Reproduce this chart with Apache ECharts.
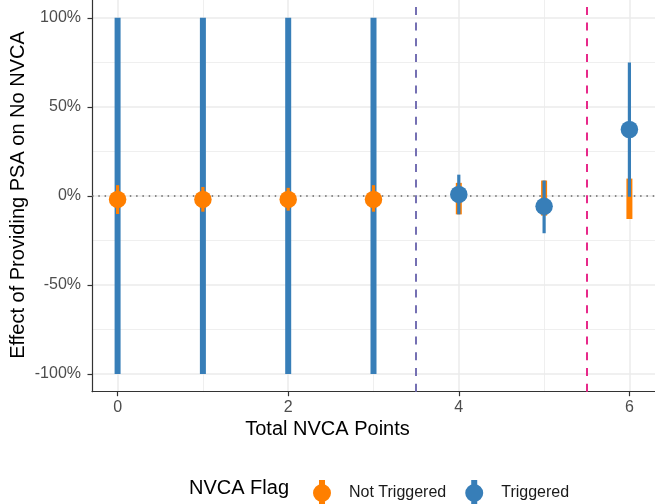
<!DOCTYPE html>
<html>
<head>
<meta charset="utf-8">
<script src="https://cdn.jsdelivr.net/npm/echarts@6/dist/echarts.min.js"></script>
<style>
html,body{margin:0;padding:0;background:#fff;}
#chart{width:655px;height:504px;}
</style>
</head>
<body>
<div id="chart"></div>
<script>
// ---- data ----
var xPoints = [0, 1, 2, 3, 4, 5, 6];
var groups = ['Not Triggered', 'Triggered'];
// Not Triggered
var notTrigEst = [-2, -2, -2, -2, null, null, null];
var notTrigLo  = [-10.2, -8.9, -8.3, -8.9, -10.4, -11.1, -13];
var notTrigHi  = [6, 5, 4.5, 6, 7.3, 8.6, 9.7];
// Triggered
var trigEst = [null, null, null, null, 0.8, -5.9, 37.3];
var trigLo  = [-100, -100, -100, -100, -10.4, -21, -0.5];
var trigHi  = [100, 100, 100, 100, 11.9, 8.6, 74.9];
// axis ticks
var yTicks = [-100, -50, 0, 50, 100];
var yMinor = [-75, -25, 25, 75];
var xTicks = [0, 2, 4, 6];
var xMinor = [1, 3, 5];
var cutoffs = [3.5, 5.5];

// ---- styling ----
var COLORS = ['#FF7F00', '#377EB8'];
var CUT_COLORS = ['#7570B3', '#E7298A'];
var FONT = '"Liberation Sans", Arial, Helvetica, sans-serif';
var GRID_COL = '#ebebeb';

var est = [notTrigEst, trigEst], lo = [notTrigLo, trigLo], hi = [notTrigHi, trigHi];

// build range data: thick ranges (no point estimate) first, then thin ones
var rangeData = [];
[1, 0].forEach(function (thickPass) {
  for (var g = 0; g < 2; g++) {
    for (var i = 0; i < xPoints.length; i++) {
      var thick = est[g][i] == null ? 1 : 0;
      if (thick === thickPass) rangeData.push([xPoints[i], lo[g][i], hi[g][i], g, thick]);
    }
  }
});

function pts(g) {
  var out = [];
  for (var i = 0; i < xPoints.length; i++) if (est[g][i] != null) out.push([xPoints[i], est[g][i]]);
  return out;
}

var gridLines = [];
yTicks.forEach(function (v) { gridLines.push({ yAxis: v, lineStyle: { color: GRID_COL, width: 1.5, type: 'solid' } }); });
yMinor.forEach(function (v) { gridLines.push({ yAxis: v, lineStyle: { color: GRID_COL, width: 0.8, type: 'solid' } }); });
xTicks.forEach(function (v) { gridLines.push({ xAxis: v, lineStyle: { color: GRID_COL, width: 1.5, type: 'solid' } }); });
xMinor.forEach(function (v) { gridLines.push({ xAxis: v, lineStyle: { color: GRID_COL, width: 0.8, type: 'solid' } }); });

var refLines = [{ yAxis: 0, lineStyle: { color: '#666', width: 1.5, type: [1.5, 4.8] } }];
cutoffs.forEach(function (v, k) {
  refLines.push({ xAxis: v, lineStyle: { color: CUT_COLORS[k], width: 2, type: [8, 7.7] } });
});

var ICON = 'path://M6 0 L12 0 L12 26 L6 26 Z M0 13 A9 9 0 1 1 18 13 A9 9 0 1 1 0 13 Z';

var chart = echarts.init(document.getElementById('chart'), null, { renderer: 'canvas' });
chart.setOption({
  animation: false,
  backgroundColor: '#fff',
  textStyle: { fontFamily: FONT },
  grid: { left: 92, right: -7.9, top: -2.4, bottom: 112.3, containLabel: false },
  xAxis: {
    type: 'value', min: -0.3, max: 6.3,
    axisLine: { show: true, onZero: false, lineStyle: { color: '#333', width: 1.2 } },
    axisTick: { show: true, customValues: xTicks, length: 4.5, lineStyle: { color: '#333', width: 1.2 } },
    axisLabel: { customValues: xTicks, color: '#4d4d4d', fontSize: 16, fontFamily: FONT, margin: 8 },
    splitLine: { show: false }
  },
  yAxis: {
    type: 'value', min: -110, max: 110,
    axisLine: { show: true, onZero: false, lineStyle: { color: '#333', width: 1.2 } },
    axisTick: { show: true, customValues: yTicks, length: 4.5, lineStyle: { color: '#333', width: 1.2 } },
    axisLabel: { customValues: yTicks, color: '#4d4d4d', fontSize: 16, fontFamily: FONT, margin: 11,
      formatter: function (v) { return v + '%'; } },
    splitLine: { show: false }
  },
  legend: {
    data: [
      { name: groups[0], icon: ICON, itemStyle: { color: COLORS[0] } },
      { name: groups[1], icon: ICON, itemStyle: { color: COLORS[1] } }
    ],
    left: 308, top: 475,
    itemWidth: 18, itemHeight: 26, itemGap: 19,
    selectedMode: false,
    textStyle: { fontSize: 16, color: '#1a1a1a', fontFamily: FONT, padding: [0, 0, 0, 13] }
  },
  graphic: [
    { type: 'text', left: 'center', x: 0, top: 419, style: { text: 'Total NVCA Points', font: '20px ' + FONT, fill: '#000' }, silent: true },
    { type: 'text', x: 18, y: 195, rotation: Math.PI / 2,
      style: { text: 'Effect of Providing PSA on No NVCA', font: '20px ' + FONT, fill: '#000', textAlign: 'center', textVerticalAlign: 'middle' }, silent: true },
    { type: 'text', x: 289, y: 488, style: { text: 'NVCA Flag', font: '20px ' + FONT, fill: '#000', textAlign: 'right', textVerticalAlign: 'middle' }, silent: true }
  ],
  series: [
    { name: 'grid', type: 'line', data: [], silent: true, z: 0,
      markLine: { z: 0, silent: true, symbol: ['none', 'none'], label: { show: false }, animation: false, data: gridLines } },
    { name: 'ref', type: 'line', data: [], silent: true, z: 1,
      markLine: { z: 1, silent: true, symbol: ['none', 'none'], label: { show: false }, animation: false, data: refLines } },
    { name: 'ranges', type: 'custom', z: 10, silent: true,
      encode: { x: 0, y: [1, 2] },
      data: rangeData,
      renderItem: function (params, api) {
        var x = api.value(0), l = api.value(1), h = api.value(2), g = api.value(3), thick = api.value(4);
        var p1 = api.coord([x, h]), p2 = api.coord([x, l]);
        var w = thick ? 6 : 3.2;
        return { type: 'rect', shape: { x: p1[0] - w / 2, y: p1[1], width: w, height: p2[1] - p1[1] },
          style: { fill: COLORS[g] } };
      } },
    { name: groups[0], type: 'scatter', z: 11, symbol: 'circle', symbolSize: 17.5, data: pts(0),
      itemStyle: { color: COLORS[0], opacity: 1 } },
    { name: groups[1], type: 'scatter', z: 11, symbol: 'circle', symbolSize: 17.5, data: pts(1),
      itemStyle: { color: COLORS[1], opacity: 1 } }
  ]
});
</script>
</body>
</html>
